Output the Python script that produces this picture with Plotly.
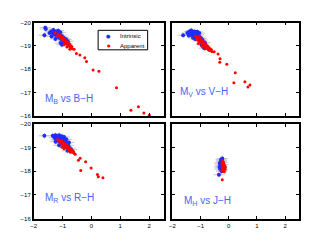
import plotly.graph_objects as go
from plotly.subplots import make_subplots

# ---------------- data ----------------
# Panel 1: M_B vs B-H
bh_int_x = [-1.60, -1.63, -1.58, -1.45, -1.40, -1.38, -1.35, -1.32, -1.30, -1.28, -1.25, -1.25, -1.22, -1.20,
            -1.18, -1.15, -1.15, -1.12, -1.10, -1.08, -1.07, -1.05, -1.03, -1.02, -1.00, -0.98, -0.95, -0.95,
            -0.93, -0.90, -0.88, -0.85, -0.82]
bh_int_y = [-19.78, -19.46, -19.72, -19.55, -19.62, -19.40, -19.55, -19.68, -19.65, -19.50, -19.58, -19.30, -19.45, -19.62,
            -19.40, -19.52, -19.65, -19.35, -19.47, -19.58, -19.12, -19.30, -19.42, -19.05, -19.25, -19.36, -19.20, -19.10,
            -19.32, -19.15, -19.27, -19.10, -19.20]
bh_app_x = [-1.25, -1.20, -1.15, -1.10, -1.08, -1.05, -1.02, -1.00, -0.98, -0.96, -0.95, -0.94, -0.92, -0.90, -0.88,
            -0.86, -0.85, -0.84, -0.82, -0.80, -0.78, -0.76, -0.75, -0.74, -0.72, -0.70, -0.68, -0.66,
            -0.60, -0.52, -0.40, -0.23, -0.17, 0.06, 0.26, 0.87, 1.37, 1.63, 1.82, 2.01]
bh_app_y = [-19.55, -19.40, -19.50, -19.42, -19.35, -19.45, -19.30, -19.38, -19.25, -19.33, -19.05, -19.20, -19.28, -19.15, -19.22,
            -19.10, -18.95, -19.18, -19.05, -19.12, -19.00, -19.08, -18.86, -18.95, -19.02, -18.92, -18.98, -18.88,
            -18.86, -18.68, -18.61, -18.50, -18.33, -17.97, -17.92, -17.21, -16.25, -16.40, -16.14, -16.04]

# Panel 2: M_V vs V-H
vh_int_x = [-1.62, -1.47, -1.40, -1.36, -1.33, -1.30, -1.28, -1.25, -1.22, -1.20, -1.18, -1.15, -1.13, -1.10,
            -1.08, -1.05, -1.03, -1.00, -0.98, -0.95, -0.93, -0.90, -0.87, -0.85, -1.42, -1.20, -1.12, -0.97,
            -1.27, -1.05]
vh_int_y = [-19.46, -19.55, -19.62, -19.50, -19.66, -19.45, -19.58, -19.40, -19.62, -19.50, -19.35, -19.55, -19.42, -19.30,
            -19.48, -19.25, -19.38, -19.20, -19.32, -19.12, -19.25, -19.08, -18.90, -19.15, -19.45, -19.30, -19.60, -19.05,
            -19.35, -19.55]
vh_app_x = [-1.18, -1.15, -1.10, -1.07, -1.05, -1.02, -1.00, -0.98, -0.96, -0.94, -0.92, -0.90, -0.88, -0.86, -0.84,
            -0.82, -0.80, -0.78, -0.76, -0.74, -0.72, -0.70, -0.68, -0.65, -0.62, -0.60, -0.95, -0.85, -1.08,
            -0.52, -0.38, -0.31, -0.32, -0.07, 0.23, 0.18, 0.57, 0.68, 0.75]
vh_app_y = [-19.42, -19.28, -19.35, -19.22, -19.40, -19.18, -19.30, -19.12, -19.25, -19.08, -19.20, -19.02, -19.15, -18.98, -19.10,
            -18.95, -19.05, -18.90, -19.00, -18.86, -18.95, -18.82, -18.90, -18.80, -18.85, -18.76, -18.98, -18.88, -19.10,
            -18.75, -18.65, -18.45, -18.30, -18.22, -17.85, -17.43, -17.47, -17.25, -17.33]

# Panel 3: M_R vs R-H
rh_int_x = [-1.63, -1.34, -1.28, -1.25, -1.22, -1.20, -1.18, -1.15, -1.12, -1.10, -1.08, -1.05, -1.03, -1.00,
            -0.98, -0.95, -0.92, -0.90, -0.88, -0.85, -0.83, -0.80, -0.75, -0.70, -1.24, -1.02, -0.95, -1.12,
            -0.87, -0.78]
rh_int_y = [-19.50, -19.50, -19.42, -19.52, -19.35, -19.48, -19.30, -19.45, -19.52, -19.25, -19.40, -19.22, -19.48, -19.18,
            -19.35, -19.12, -19.28, -19.05, -19.20, -19.00, -18.87, -19.10, -18.98, -18.92, -19.25, -19.40, -19.45, -19.10,
            -19.35, -19.22]
rh_app_x = [-1.17, -1.12, -1.08, -1.05, -1.02, -1.00, -0.98, -0.95, -0.93, -0.90, -0.88, -0.86, -0.84, -0.82, -0.80,
            -0.78, -0.76, -0.74, -0.72, -0.70, -0.68, -0.66, -0.64, -0.62, -0.60, -1.02, -0.73, -0.95, -0.85,
            -0.56, -0.39, -0.45, -0.20, -0.37, -0.01, 0.21, 0.24, 0.40]
rh_app_y = [-19.34, -19.28, -19.22, -19.30, -19.15, -19.25, -19.10, -19.20, -19.05, -19.15, -19.00, -19.08, -18.95, -19.05, -18.92,
            -19.00, -18.88, -18.95, -18.85, -18.92, -18.82, -18.88, -18.80, -18.84, -18.76, -19.02, -18.80, -18.95, -19.12,
            -18.72, -18.55, -18.47, -18.40, -18.03, -18.14, -17.86, -17.77, -17.73]

# Panel 4: M_H vs J-H
jh_int_x = [-0.23, -0.25, -0.28, -0.30, -0.27, -0.32, -0.22, -0.26, -0.29, -0.24, -0.31, -0.20, -0.27, -0.33, -0.25, -0.35]
jh_int_y = [-18.54, -18.45, -18.40, -18.30, -18.25, -18.35, -18.38, -18.15, -18.20, -18.05, -18.10, -18.28, -18.50, -18.18, -18.00, -17.85]
jh_app_x = [-0.22, -0.20, -0.18, -0.24, -0.16, -0.21, -0.19, -0.23, -0.17, -0.14, -0.20, -0.25, -0.18, -0.22, -0.15,
            -0.12, -0.19, -0.21, -0.16, -0.24, -0.13, -0.23]
jh_app_y = [-18.45, -18.40, -18.35, -18.30, -18.28, -18.25, -18.20, -18.18, -18.15, -18.12, -18.10, -18.08, -18.05, -18.00,
            -18.22, -18.18, -18.32, -18.02, -17.98, -18.38, -18.08, -17.64]

err_x = 0.2
err_y = 0.12

series_names = ["Intrinsic", "Apparent"]
panel_labels = ["M<sub>B</sub> vs B\u2212H", "M<sub>V</sub> vs V\u2212H",
                "M<sub>R</sub> vs R\u2212H", "M<sub>H</sub> vs J\u2212H"]

panels = [
    (bh_int_x, bh_int_y, bh_app_x, bh_app_y, panel_labels[0], 1, 1),
    (vh_int_x, vh_int_y, vh_app_x, vh_app_y, panel_labels[1], 1, 2),
    (rh_int_x, rh_int_y, rh_app_x, rh_app_y, panel_labels[2], 2, 1),
    (jh_int_x, jh_int_y, jh_app_x, jh_app_y, panel_labels[3], 2, 2),
]

x_ticks = [-2, -1, 0, 1, 2]
y_ticks = [-20, -19, -18, -17, -16]

BLUE = "#1f2dff"
RED = "#ff0000"
TXT_BLUE = "#4a63ff"
FONT = "Liberation Sans"

fig = make_subplots(rows=2, cols=2)

for i, (ix, iy, ax, ay, label, r, c) in enumerate(panels):
    fig.add_trace(go.Scatter(
        x=ix, y=iy, mode="markers", name=series_names[0], showlegend=False,
        marker=dict(color=BLUE, size=4),
        error_x=dict(type="constant", value=err_x, color="#c8c8c8", thickness=1, width=0),
        error_y=dict(type="constant", value=err_y, color="#c8c8c8", thickness=1, width=0),
    ), row=r, col=c)
    fig.add_trace(go.Scatter(
        x=ax, y=ay, mode="markers", name=series_names[1], showlegend=False,
        marker=dict(color=RED, size=3),
    ), row=r, col=c)

W, H = 325, 245
xdom = {1: [31 / W, 162 / W], 2: [171 / W, 299 / W]}
ydom = {1: [1 - 116 / H, 1 - 20 / H], 2: [1 - 221 / H, 1 - 124 / H]}

labels_pos = {1: (-1.68, -16.74), 2: (-1.80, -17.05), 3: (-1.68, -16.86), 4: (-1.65, -16.74)}

for k, (ix, iy, ax, ay, label, r, c) in enumerate(panels):
    n = k + 1
    xa = "xaxis" if n == 1 else f"xaxis{n}"
    ya = "yaxis" if n == 1 else f"yaxis{n}"
    fig.layout[xa].update(
        domain=xdom[c], range=[-2, 2.5], tickvals=x_ticks, showticklabels=(r == 2),
        ticks="inside", ticklen=3, tickwidth=1, tickcolor="black", mirror="allticks",
        showline=True, linecolor="black", linewidth=1.5, showgrid=False, zeroline=False,
        tickfont=dict(size=6, color="black", family=FONT),
    )
    fig.layout[ya].update(
        domain=ydom[r], range=[-16, -20], tickvals=y_ticks, showticklabels=(c == 1),
        ticks="inside", ticklen=3, tickwidth=1, tickcolor="black", mirror="allticks",
        showline=True, linecolor="black", linewidth=1.5, showgrid=False, zeroline=False,
        tickfont=dict(size=6, color="black", family=FONT),
    )
    lx, ly = labels_pos[n]
    fig.add_annotation(
        x=lx, y=ly, xref=f"x{'' if n == 1 else n}", yref=f"y{'' if n == 1 else n}",
        text=label, showarrow=False, xanchor="left", yanchor="middle",
        font=dict(size=10, color=TXT_BLUE, family=FONT),
    )

# legend box (drawn manually to get the compact MATLAB-style legend)
fig.add_shape(type="rect", xref="paper", yref="paper",
              x0=96 / W, x1=146 / W, y0=1 - 48 / H, y1=1 - 28 / H,
              line=dict(color="black", width=1), fillcolor="white", layer="above")
for j, (nm, col) in enumerate(zip(series_names, [BLUE, RED])):
    yy = 1 - (34 + 10 * j) / H
    fig.add_annotation(x=106.5 / W, y=yy, xref="paper", yref="paper", text="\u25cf",
                       showarrow=False, xanchor="center", yanchor="middle",
                       font=dict(size=5 if j == 0 else 4, color=col, family="DejaVu Sans"))
    fig.add_annotation(x=116 / W, y=yy, xref="paper", yref="paper", text=nm,
                       showarrow=False, xanchor="left", yanchor="middle",
                       font=dict(size=6, color="black", family=FONT))

fig.update_layout(
    width=W, height=H,
    margin=dict(l=0, r=0, t=0, b=0),
    paper_bgcolor="white", plot_bgcolor="white",
    showlegend=False,
)

fig.write_html("out.html", config={"displayModeBar": False},
               post_script="document.body.style.margin='0';")
